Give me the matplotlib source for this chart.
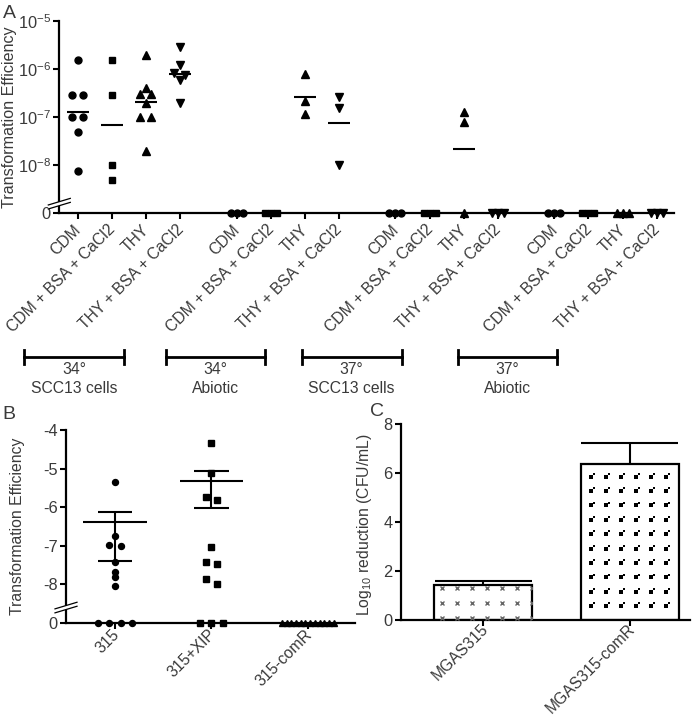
import numpy as np
import matplotlib
matplotlib.use("Agg")
import matplotlib.pyplot as plt
from matplotlib.lines import Line2D
from matplotlib.patches import Polygon
from matplotlib.transforms import IdentityTransform, ScaledTranslation

# ---------------- data ----------------
# Panel A: transformation efficiency per condition (0 = none detected)
a_media = ["CDM", "CDM + BSA + CaCl2", "THY", "THY + BSA + CaCl2"]
a_temps = ["34°", "34°", "37°", "37°"]
a_settings = ["SCC13 cells", "Abiotic", "SCC13 cells", "Abiotic"]
a_34_scc13 = [
    [1.5e-6, 2.9e-7, 2.9e-7, 1.0e-7, 1.0e-7, 4.9e-8, 7.6e-9],
    [1.55e-6, 2.9e-7, 1.0e-8, 5.0e-9],
    [1.95e-6, 4.0e-7, 3.0e-7, 3.0e-7, 1.95e-7, 9.8e-8, 9.8e-8, 2.0e-8],
    [2.9e-6, 1.2e-6, 7.6e-7, 8.1e-7, 6.0e-7, 2.0e-7],
]
a_34_abiotic = [
    [0, 0, 0],
    [0, 0, 0],
    [7.8e-7, 2.1e-7, 1.15e-7],
    [2.6e-7, 1.55e-7, 1.0e-8],
]
a_37_scc13 = [
    [0, 0, 0],
    [0, 0, 0],
    [1.27e-7, 7.8e-8, 0],
    [0, 0, 0],
]
a_37_abiotic = [
    [0, 0, 0],
    [0, 0, 0],
    [0, 0, 0],
    [0, 0, 0],
]
a_ytick_vals = [-9, -8, -7, -6, -5]
a_yticklabels = ["0", "$10^{-8}$", "$10^{-7}$", "$10^{-6}$", "$10^{-5}$"]

# Panel B
b_strains = ["315", "315+XIP", "315-comR"]
b_315 = [4.4e-6, 1.02e-7, 9.8e-8, 1.78e-7, 3.8e-8, 2.1e-8, 1.55e-8, 9.1e-9, 0, 0, 0, 0]
b_315_xip = [4.6e-5, 7.6e-6, 1.5e-6, 1.8e-6, 9.1e-8, 3.4e-8, 3.8e-8, 1.35e-8, 1.05e-8, 0, 0, 0]
b_315_comr = [0, 0, 0, 0, 0, 0, 0, 0, 0, 0, 0, 0]
b_ytick_vals = [-9, -8, -7, -6, -5, -4]
b_yticklabels = ["0", "-8", "-7", "-6", "-5", "-4"]

# Panel C
c_strains = ["MGAS315", "MGAS315-comR"]
c_mean = [1.44, 6.37]
c_sem = [0.14, 0.88]

# ---------------- style ----------------
plt.rcParams['font.family'] = ['Liberation Sans', 'DejaVu Sans']
plt.rcParams['mathtext.fontset'] = 'custom'
plt.rcParams['mathtext.rm'] = 'Liberation Sans'
plt.rcParams['mathtext.it'] = 'Liberation Sans:italic'
plt.rcParams['mathtext.bf'] = 'Liberation Sans:bold'
plt.rcParams['mathtext.default'] = 'regular'

W, H = 692, 719
TXT = '#3a3a3a'
FS = 11.8
FS_ROT = 11.3
LOG_ZERO = -9.0

fig = plt.figure(figsize=(W / 100, H / 100), dpi=100)


def rect(l, t, r, b):
    return [l / W, 1 - b / H, (r - l) / W, (b - t) / H]


def style_axes(ax):
    for s in ('top', 'right'):
        ax.spines[s].set_visible(False)
    for s in ('left', 'bottom'):
        ax.spines[s].set_linewidth(1.6)
    ax.tick_params(direction='out', length=4.5, width=1.5, colors='black',
                   labelcolor=TXT, labelsize=FS, pad=1.5)


def to_log(vals):
    v = np.asarray(vals, float)
    out = np.full(v.shape, LOG_ZERO)
    out[v > 0] = np.log10(v[v > 0])
    return out


def swarm(ax, xc, ylog, base_px, max_px, thresh_px):
    ylog = np.asarray(ylog, float)
    py = np.array([ax.transData.transform((0, y))[1] for y in ylog])
    ppx = ax.transData.transform((1, 0))[0] - ax.transData.transform((0, 0))[0]
    order = np.argsort(-py, kind='stable')
    rows = []
    for i in order:
        if rows and abs(py[rows[-1][0]] - py[i]) < thresh_px:
            rows[-1].append(i)
        else:
            rows.append([i])
    xs = np.zeros(len(ylog))
    for row in rows:
        n = len(row)
        sp = base_px if n == 1 else min(base_px, max_px / (n - 1))
        for k, i in enumerate(row):
            xs[i] = xc + (k - (n - 1) / 2) * sp / ppx
    return xs


def axis_break(ax, yval):
    x0 = ax.get_xlim()[0]
    px, py = ax.transData.transform((x0, yval))
    half, slope, gap = 11, 0.3, 2.0
    xs = np.array([px - half, px + half])
    ys = py + (xs - px) * slope
    poly = Polygon([[xs[0], ys[0] - gap], [xs[1], ys[1] - gap],
                    [xs[1], ys[1] + gap], [xs[0], ys[0] + gap]],
                   closed=True, facecolor='white', edgecolor='none',
                   transform=IdentityTransform(), zorder=10)
    fig.add_artist(poly)
    for s in (-gap, gap):
        fig.add_artist(Line2D(xs, ys + s, transform=IdentityTransform(),
                              color='black', lw=0.9, zorder=11))


def rot_labels(ax, xs, labels, dx_px, dy_px):
    ax.set_xticklabels([])
    for x, lab in zip(xs, labels):
        tr = ax.get_xaxis_transform() + ScaledTranslation(dx_px / 100, -dy_px / 100,
                                                          fig.dpi_scale_trans)
        ax.text(x, 0, lab, transform=tr, rotation=45, ha='right', va='center',
                rotation_mode='anchor', fontsize=FS_ROT, color=TXT, clip_on=False)


# ================= Panel A =================
axA = fig.add_axes(rect(59.3, 20.7, 673.7, 213.3))
style_axes(axA)
axA.set_xlim(-0.54, 17.48)
axA.set_ylim(LOG_ZERO, -5)
a_groups = [a_34_scc13, a_34_abiotic, a_37_scc13, a_37_abiotic]
a_markers = ['o', 's', '^', 'v']
a_msize = {'o': 5.0, 's': 4.6, '^': 5.6, 'v': 5.6}
GROUP_STEP = 4.66
a_x = []
a_lab = []
for g, grp in enumerate(a_groups):
    for i, vals in enumerate(grp):
        xc = g * GROUP_STEP + i
        a_x.append(xc)
        a_lab.append(a_media[i])
        ly = to_log(vals)
        xs = swarm(axA, xc, ly, 11, 12, 4.5)
        m = a_markers[i]
        axA.plot(xs, ly, ls='none', marker=m, ms=a_msize[m], color='black',
                 mec='black', clip_on=False, zorder=5)
        if np.any(np.asarray(vals) > 0):
            gm = ly.mean()
            axA.hlines(gm, xc - 0.32, xc + 0.32, color='black', lw=1.5, zorder=4)
axA.set_xticks(a_x)
rot_labels(axA, a_x, a_lab, 1, 14)
axA.set_yticks(a_ytick_vals)
axA.set_yticklabels(a_yticklabels)
axis_break(axA, -8.8)

# condition brackets under panel A (figure pixel coords)
brackets = [(24, 124), (165.7, 265), (301.7, 401.7), (458, 557)]
for (x0, x1), t, s in zip(brackets, a_temps, a_settings):
    yb = 1 - 357.3 / H
    fig.add_artist(Line2D([x0 / W, x1 / W], [yb, yb], transform=fig.transFigure,
                          color='black', lw=2.0))
    for xx in (x0, x1):
        fig.add_artist(Line2D([xx / W, xx / W], [1 - 350.3 / H, 1 - 364.3 / H],
                              transform=fig.transFigure, color='black', lw=2.0))
    xm = (x0 + x1) / 2 / W
    fig.text(xm, 1 - 369.5 / H, t, ha='center', va='center', fontsize=11.3, color=TXT)
    fig.text(xm, 1 - 389 / H, s, ha='center', va='center', fontsize=11.3, color=TXT)

fig.text(9.5 / W, 1 - 117 / H, "Transformation Efficiency", rotation=90,
         ha='center', va='center', fontsize=11.6, color=TXT)
fig.text(9 / W, 1 - 13 / H, "A", ha='center', va='center', fontsize=14, color=TXT)

# ================= Panel B =================
axB = fig.add_axes(rect(66, 430, 355, 623))
style_axes(axB)
axB.set_xlim(-0.51, 2.49)
axB.set_ylim(LOG_ZERO, -4)
b_sets = [b_315, b_315_xip, b_315_comr]
b_markers = ['o', 's', '^']
b_msize = {'o': 4.3, 's': 4.8, '^': 4.0}
for i, vals in enumerate(b_sets):
    ly = to_log(vals)
    xs = swarm(axB, i, ly, 11.5, 52, 4.5)
    m = b_markers[i]
    axB.plot(xs, ly, ls='none', marker=m, ms=b_msize[m], color='black',
             clip_on=False, zorder=5)
    v = np.asarray(vals, float)
    mean = v.mean()
    sem = v.std(ddof=1) / np.sqrt(len(v))
    if mean > 0:
        lm = np.log10(mean)
        hi = np.log10(mean + sem)
        lo = np.log10(mean - sem) if mean - sem > 0 else LOG_ZERO
        axB.hlines(lm, i - 0.33, i + 0.33, color='black', lw=1.5, zorder=4)
        axB.hlines([hi, lo], i - 0.18, i + 0.18, color='black', lw=1.5, zorder=4)
        axB.vlines(i, lo, hi, color='black', lw=1.5, zorder=4)
axB.set_xticks(range(len(b_strains)))
rot_labels(axB, range(len(b_strains)), b_strains, 2, 9)
axB.set_yticks(b_ytick_vals)
axB.set_yticklabels(b_yticklabels)
axis_break(axB, -8.6)
fig.text(17.5 / W, 1 - 526 / H, "Transformation Efficiency", rotation=90,
         ha='center', va='center', fontsize=11.3, color=TXT)
fig.text(9 / W, 1 - 415 / H, "B", ha='center', va='center', fontsize=14, color=TXT)

# ================= Panel C =================
axC = fig.add_axes(rect(401, 424.3, 690, 620))
style_axes(axC)
axC.set_xlim(-0.56, 1.41)
axC.set_ylim(0, 8)
cx = np.arange(len(c_strains))
BW = 0.667
axC.vlines(cx, c_mean, np.add(c_mean, c_sem), color='black', lw=1.5, zorder=1)
axC.hlines(np.add(c_mean, c_sem), cx - 0.33, cx + 0.33, color='black', lw=1.5, zorder=1)
bars = axC.bar(cx, c_mean, width=BW, facecolor='white', edgecolor='black',
               linewidth=1.6, zorder=2)
ppx_x = axC.transData.transform((1, 0))[0] - axC.transData.transform((0, 0))[0]
ppx_y = axC.transData.transform((0, 1))[1] - axC.transData.transform((0, 0))[1]
# fill patterns
for j, bar in enumerate(bars):
    left = bar.get_x()
    top = bar.get_height()
    if j == 0:
        cols = left + (7.4 + 15 * np.arange(7)) / ppx_x
        rows = top - (3.2 + 15 * np.arange(3)) / ppx_y
        gx, gy = np.meshgrid(cols, rows)
        pts = axC.plot(gx.ravel(), gy.ravel(), ls='none', marker='x', ms=3.4,
                       mew=1.0, color='#666666', zorder=3)
        for p in pts:
            p.set_clip_path(bar)
    else:
        cols = left + (10 + 15 * np.arange(6)) / ppx_x
        rows = top - (12.5 + 14.4 * np.arange(10)) / ppx_y
        gx, gy = np.meshgrid(cols, rows)
        p1 = axC.plot(gx.ravel(), gy.ravel(), ls='none', marker='s', ms=2.6,
                      mew=0, color='black', zorder=3)
        p2 = axC.plot(gx.ravel() + 2.8 / ppx_x, gy.ravel() + 2.8 / ppx_y, ls='none',
                      marker='s', ms=1.8, mew=0, color='black', zorder=3)
        for p in p1 + p2:
            p.set_clip_path(bar)
axC.set_xticks(cx)
rot_labels(axC, cx, c_strains, 3, 7)
axC.set_yticks([0, 2, 4, 6, 8])
fig.text(365 / W, 1 - 525 / H, "Log$_{10}$ reduction (CFU/mL)", rotation=90,
         ha='center', va='center', fontsize=11.3, color=TXT)
fig.text(377 / W, 1 - 411 / H, "C", ha='center', va='center', fontsize=14, color=TXT)

fig.savefig("out.png", dpi=100)
